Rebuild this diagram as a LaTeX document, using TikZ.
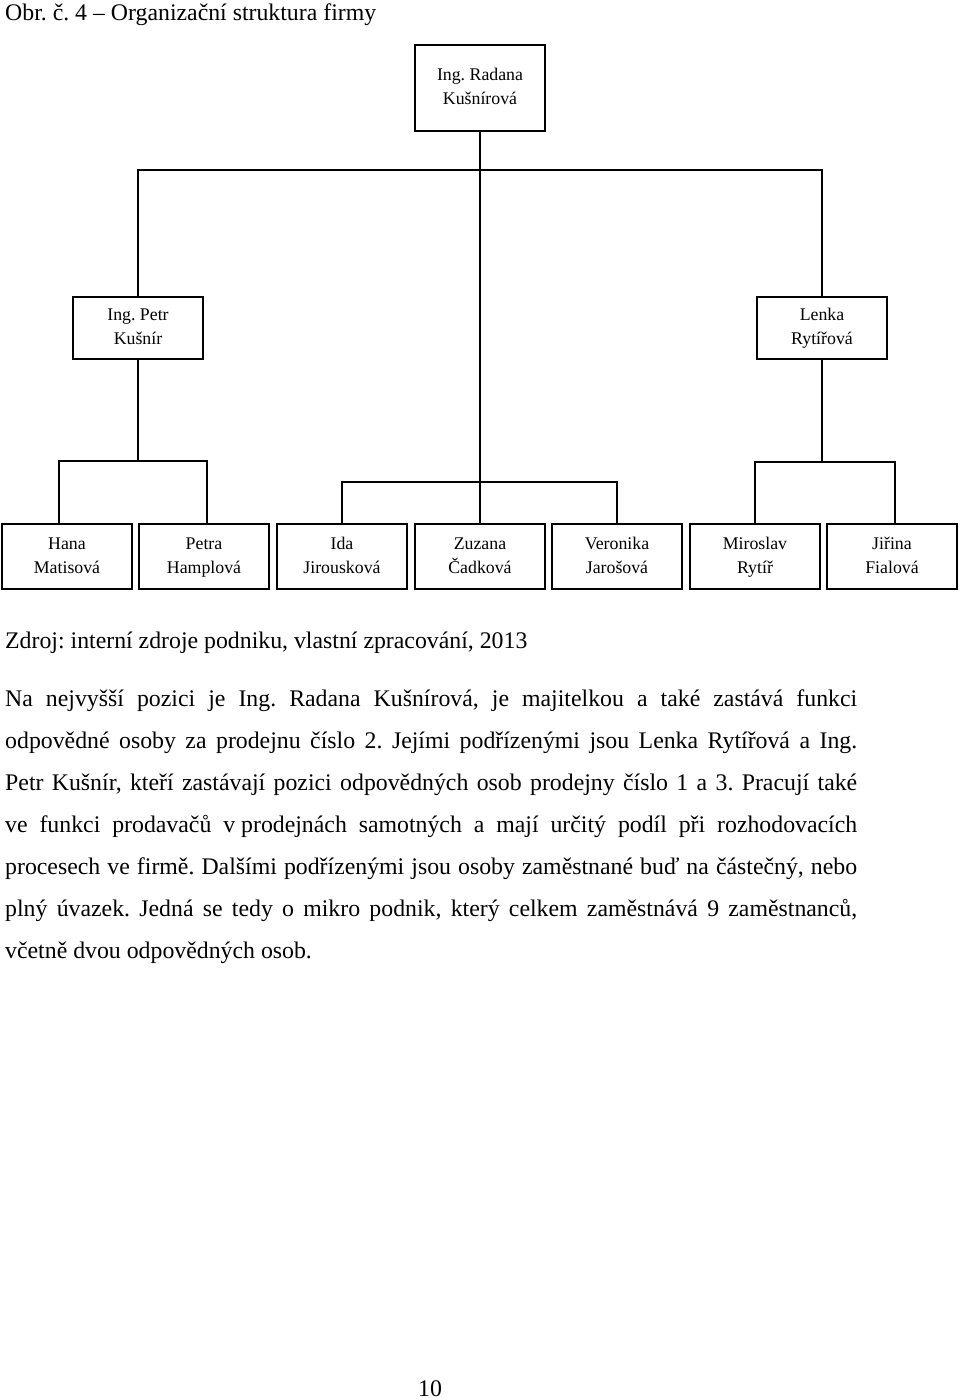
\documentclass[tikz,border=0pt]{standalone}
\usepackage{fontspec}
\setmainfont{Liberation Serif}
\usetikzlibrary{calc}
\frenchspacing
\newcommand{\bl}[2]{\strut #1\\\strut #2}
\begin{document}
\begin{tikzpicture}[x=1pt,y=1pt,
  box/.style={draw, line width=2pt, minimum width=130pt, inner sep=0pt, align=center,
    font=\fontsize{17.8}{24}\selectfont},
  conn/.style={line width=1.6pt},
  txt/.style={anchor=base west, inner sep=0pt, font=\fontsize{23.8}{42}\selectfont\frenchspacing}]
\useasboundingbox[fill=white] (0,0) rectangle (960,-1400);

% title
\node[txt] (title) at (5,-20) {Obr. č. 4 – Organizační struktura firmy};

% boxes
\node[box, minimum height=86pt] (top) at (480,-88) {\bl{Ing. Radana}{Kušnírová}};
\node[box, minimum height=62pt] (petr) at (138,-328) {\bl{Ing. Petr}{Kušnír}};
\node[box, minimum height=62pt] (lenka) at (822,-328) {\bl{Lenka}{Rytířová}};

\node[box, minimum height=65pt] (hana) at (67,-556.5) {\bl{Hana}{Matisová}};
\node[box, minimum height=65pt] (petra) at (204,-556.5) {\bl{Petra}{Hamplová}};
\node[box, minimum height=65pt] (ida) at (342,-556.5) {\bl{Ida}{Jirousková}};
\node[box, minimum height=65pt] (zuz) at (480,-556.5) {\bl{Zuzana}{Čadková}};
\node[box, minimum height=65pt] (ver) at (617,-556.5) {\bl{Veronika}{Jarošová}};
\node[box, minimum height=65pt] (mir) at (755,-556.5) {\bl{Miroslav}{Rytíř}};
\node[box, minimum height=65pt] (jir) at (892,-556.5) {\bl{Jiřina}{Fialová}};

% connectors
\coordinate (h1) at (480,-170);
\coordinate (h2) at (480,-482);
\coordinate (h3) at (138,-461);
\coordinate (h4) at (822,-462);
\draw[conn] (top.south) -- (zuz.north);
\draw[conn] (petr.north) |- (h1) -| (lenka.north);
\draw[conn] (ida.north) |- (h2) -| (ver.north);
\draw[conn] (petr.south) -- (h3);
\draw[conn] ($(hana.north)+(-8,0)$) |- (h3) -| ($(petra.north)+(3,0)$);
\draw[conn] (lenka.south) -- (h4);
\draw[conn] (mir.north) |- (h4) -| ($(jir.north)+(3,0)$);

% text
\node[txt] (src) at (5,-648) {Zdroj: interní zdroje podniku, vlastní zpracování, 2013};
\node[txt] (p1) at (5,-706) {\makebox[852pt][s]{Na nejvyšší pozici je Ing. Radana Kušnírová, je majitelkou a také zastává funkci}};
\node[txt] (p2) at (5,-748) {\makebox[852pt][s]{odpovědné osoby za prodejnu číslo 2. Jejími podřízenými jsou Lenka Rytířová a Ing.}};
\node[txt] (p3) at (5,-790) {\makebox[852pt][s]{Petr Kušnír, kteří zastávají pozici odpovědných osob prodejny číslo 1 a 3. Pracují také}};
\node[txt] (p4) at (5,-832) {\makebox[852pt][s]{ve funkci prodavačů \hbox{v prodejnách} samotných a mají určitý podíl při rozhodovacích}};
\node[txt] (p5) at (5,-874) {\makebox[852pt][s]{procesech ve firmě. Dalšími podřízenými jsou osoby zaměstnané buď na částečný, nebo}};
\node[txt] (p6) at (5,-916) {\makebox[852pt][s]{plný úvazek. Jedná se tedy o mikro podnik, který celkem zaměstnává 9 zaměstnanců,}};
\node[txt] (p7) at (5,-958) {včetně dvou odpovědných osob.};

\node[txt, anchor=base] (pg) at (430,-1396) {10};
\end{tikzpicture}
\end{document}
